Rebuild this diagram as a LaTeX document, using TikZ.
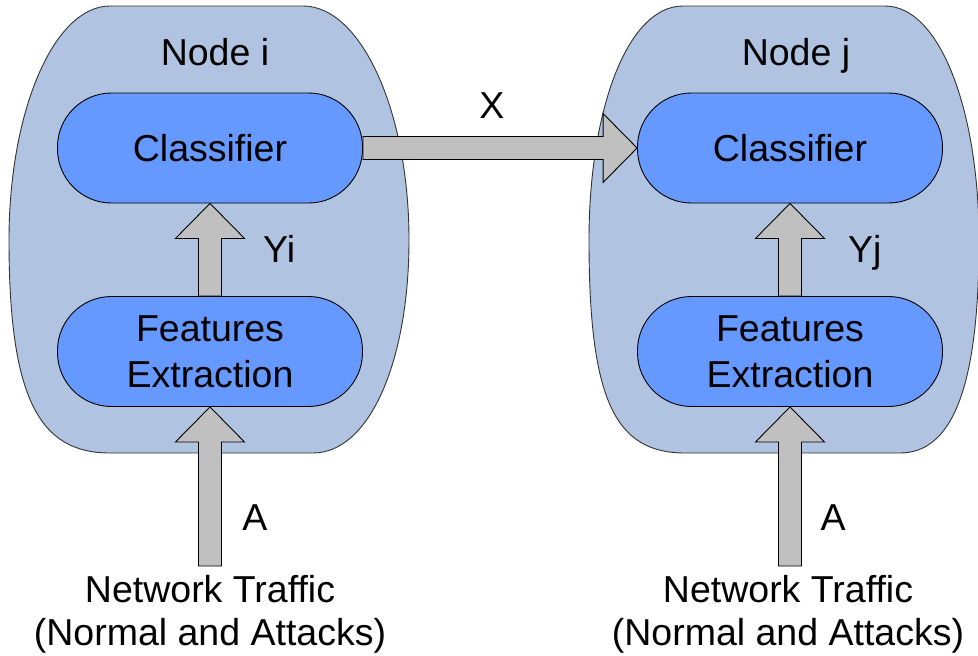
\documentclass[tikz,border=0pt]{standalone}
\usepackage{fontspec}
\setmainfont[Ligatures=CommonOff]{Liberation Sans}
\usetikzlibrary{calc}
\definecolor{blobfill}{RGB}{176,196,226}
\definecolor{boxfill}{RGB}{102,153,255}
\definecolor{arrowfill}{RGB}{192,192,192}
\newcommand{\vblockarrow}[2]{%
  \draw[blockarrow] let \p1=(#1), \p2=(#2) in
    (\x2,\y2) -- ({\x2+34.5pt},{\y2-35pt}) -- ({\x2+11.5pt},{\y2-35pt})
    -- ({\x1+11.5pt},\y1) -- ({\x1-11.5pt},\y1)
    -- ({\x2-11.5pt},{\y2-35pt}) -- ({\x2-34.5pt},{\y2-35pt}) -- cycle;}
\newcommand{\hblockarrow}[2]{%
  \draw[blockarrow] let \p1=(#1), \p2=(#2) in
    (\x2,\y2) -- ({\x2-34pt},{\y2+34.5pt}) -- ({\x2-34pt},{\y2+11.5pt})
    -- (\x1,{\y1+11.5pt}) -- (\x1,{\y1-11.5pt})
    -- ({\x2-34pt},{\y2-11.5pt}) -- ({\x2-34pt},{\y2-34.5pt}) -- cycle;}
\tikzset{
  blob/.style={fill=blobfill, draw=black!80, line width=0.9pt},
  box/.style={fill=boxfill, draw=black, line width=0.9pt, rectangle,
    rounded corners=54pt, minimum width=305pt, minimum height=110pt,
    inner sep=0pt, align=center, font=\fontsize{37.5}{46}\selectfont},
  blockarrow/.style={fill=arrowfill, draw=black, line width=0.9pt, line join=miter},
  lbl/.style={inner sep=0pt, font=\fontsize{37.5}{43}\selectfont}
}
\begin{document}
\begin{tikzpicture}[x=1pt,y=-1pt]
\useasboundingbox (0,0) rectangle (978,656);
% containers
\path[blob] (110,6) -- (303,6) .. controls (361,6) and (409,111) .. (409,240)
  .. controls (409,360) and (370,453) .. (313,453) -- (110,453)
  .. controls (40,453) and (9,400) .. (9,240)
  .. controls (9,111) and (54,6) .. (110,6) -- cycle;
\path[blob] (683,6) -- (885,6) .. controls (940,6) and (979,111) .. (979,240)
  .. controls (979,380) and (955,453) .. (900,453) -- (685,453)
  .. controls (615,453) and (589,400) .. (589,240)
  .. controls (589,111) and (627,6) .. (683,6) -- cycle;
% titles
\node[lbl,anchor=base] (ni) at (215,65) {Node i};
\node[lbl,anchor=base] (nj) at (796,65) {Node j};
% boxes
\node[box] (ci) at (210,148) {Classifier};
\node[box] (fi) at (210,351.5) {Features\\Extraction};
\node[box] (cj) at (790,148) {Classifier};
\node[box] (fj) at (790,351.5) {Features\\Extraction};
% free ends
\coordinate (ti) at (210,566);
\coordinate (tj) at (790,566);
% arrows
\vblockarrow{fi.north}{ci.south}
\vblockarrow{fj.north}{cj.south}
\vblockarrow{ti}{fi.south}
\vblockarrow{tj}{fj.south}
\hblockarrow{ci.east}{cj.west}
% arrow labels
\node[lbl,anchor=base west] (yi) at (263,262) {Yi};
\node[lbl,anchor=base west] (yj) at (848,262) {Yj};
\node[lbl,anchor=base] (x) at (492,118) {X};
\node[lbl,anchor=base] (ai) at (255,530) {A};
\node[lbl,anchor=base] (aj) at (833,530) {A};
% sources
\node[lbl,anchor=base] (nti1) at (210,602) {Network Traffic};
\node[lbl,anchor=base] (nti2) at (210,645) {(Normal and Attacks)};
\node[lbl,anchor=base] (ntj1) at (788,602) {Network Traffic};
\node[lbl,anchor=base] (ntj2) at (788,645) {(Normal and Attacks)};
\end{tikzpicture}
\end{document}
